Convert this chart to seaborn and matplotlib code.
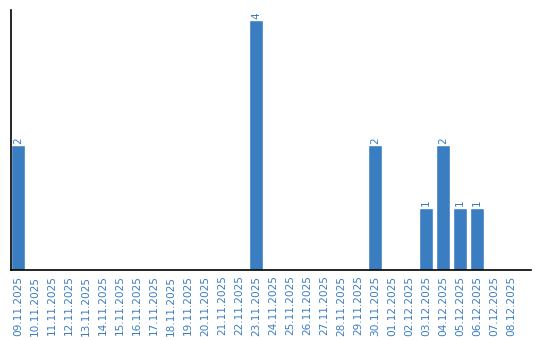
import matplotlib
matplotlib.use("Agg")
import matplotlib.pyplot as plt
import seaborn as sns
import pandas as pd

dates = ["09.11.2025", "10.11.2025", "11.11.2025", "12.11.2025", "13.11.2025",
         "14.11.2025", "15.11.2025", "16.11.2025", "17.11.2025", "18.11.2025",
         "19.11.2025", "20.11.2025", "21.11.2025", "22.11.2025", "23.11.2025",
         "24.11.2025", "25.11.2025", "26.11.2025", "27.11.2025", "28.11.2025",
         "29.11.2025", "30.11.2025", "01.12.2025", "02.12.2025", "03.12.2025",
         "04.12.2025", "05.12.2025", "06.12.2025", "07.12.2025", "08.12.2025"]
counts = [2, 0, 0, 0, 0, 0, 0, 0, 0, 0,
          0, 0, 0, 0, 4, 0, 0, 0, 0, 0,
          0, 2, 0, 0, 1, 2, 1, 1, 0, 0]

df = pd.DataFrame({"date": dates, "count": counts})
blue = "#3b7dc1"

sns.set_style("white")
fig = plt.figure(figsize=(5.4, 3.4), dpi=100)
ax = fig.add_axes([11/540, 70/340, 520/540, 260/340])
sns.barplot(data=df, x="date", y="count", color=blue, width=0.82,
            saturation=1, ax=ax)

for i, v in enumerate(counts):
    if v > 0:
        ax.text(i, v + 0.02, str(v), rotation=90, ha="center", va="bottom",
                color=blue, fontsize=7.6)

ax.set_xlim(-0.41, 30.18)
ax.set_ylim(0, 4.16)
ax.set_xlabel("")
ax.set_ylabel("")
ax.set_yticks([])
ax.tick_params(axis="x", length=0, pad=4, labelsize=7.6, labelcolor=blue,
               rotation=90)
for s in ["top", "right"]:
    ax.spines[s].set_visible(False)
for s in ["left", "bottom"]:
    ax.spines[s].set_color("black")
    ax.spines[s].set_linewidth(1.2)

fig.savefig("out.png", dpi=100)
